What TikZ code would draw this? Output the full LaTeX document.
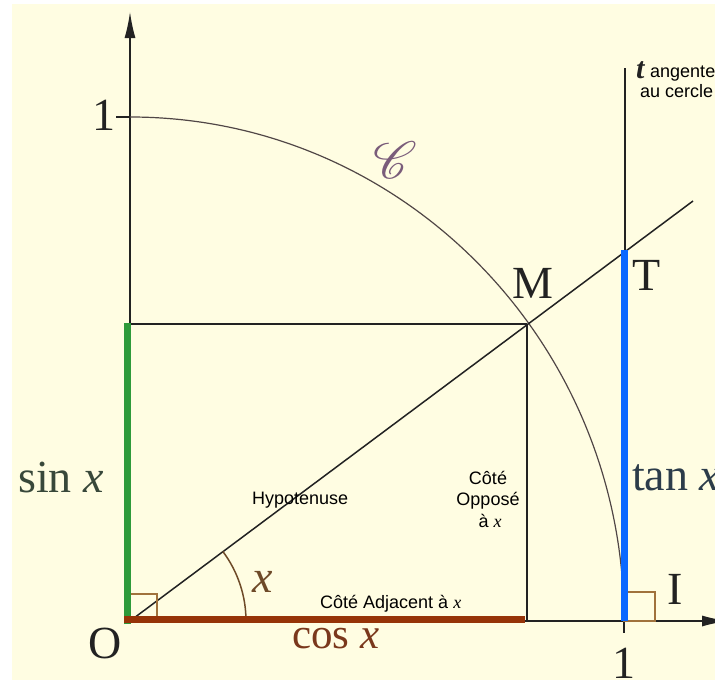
\documentclass[tikz,border=0pt]{standalone}
\usepackage{fontspec}
\setmainfont{Liberation Serif}
\newfontfamily\labfont{Liberation Sans}
\usepackage{mathrsfs}
\usetikzlibrary{arrows.meta}
\definecolor{bg}{RGB}{255,253,226}
\definecolor{ink}{RGB}{34,34,34}
\definecolor{arcc}{RGB}{80,70,70}
\definecolor{greenbar}{RGB}{46,154,58}
\definecolor{brownbar}{RGB}{150,52,8}
\definecolor{bluebar}{RGB}{10,104,255}
\definecolor{boxc}{RGB}{160,114,60}
\definecolor{angc}{RGB}{110,74,40}
\definecolor{sinc}{RGB}{56,72,58}
\definecolor{tanc}{RGB}{44,60,74}
\definecolor{cosc}{RGB}{122,56,28}
\definecolor{scrc}{RGB}{122,92,122}
\tikzset{
  axisline/.style={draw=ink,line width=1.5pt,-{Latex[length=26pt,width=11pt]}},
  thin line/.style={draw=ink,line width=1.5pt},
  circline/.style={draw=arcc,line width=1.2pt},
  bar/.style={line width=7pt},
  rabox/.style={draw=boxc,line width=1.2pt},
  bigserif/.style={inner sep=0pt,anchor=base,text=ink,font=\fontsize{46}{50}\selectfont},
  lab/.style={inner sep=0pt,anchor=base west,text=black,font=\labfont\fontsize{18}{22}\selectfont},
}
\begin{document}
\begin{tikzpicture}[x=1pt,y=1pt]
\fill[white] (0,0) rectangle (715,-680);
\clip (0,0) rectangle (715,-680);
\fill[bg] (12,-4) rectangle (715,-680);
% key points
\coordinate (O) at (130,-621);
\coordinate (I) at (624,-621);
\coordinate (J) at (130,-117);
\coordinate (Jt) at (116,-117);
\coordinate (Ib) at (624,-633);
\coordinate (M) at (527,-324);
\coordinate (T) at (625,-252);
\coordinate (S) at (130,-324);
\coordinate (C) at (527,-621);
\coordinate (ytop) at (130,-12);
\coordinate (xend) at (728,-621);
\coordinate (ttop) at (625,-68);
\coordinate (Lend) at (693,-201);
\coordinate (A1) at (246,-621);
% bar ends
\coordinate (Gb) at (127,-624);
\coordinate (Gt) at (127,-323);
\coordinate (Bl) at (124,-619);
\coordinate (Br) at (525,-619);
\coordinate (Ut) at (624,-250);
\coordinate (Ub) at (624,-621);
% axes
\draw[axisline] (O) -- (ytop);
\draw[axisline] (O) -- (xend);
\draw[thin line] (J) -- (Jt);
\draw[thin line] (I) -- (Ib);
% unit circle arc
\draw[circline] (I) arc[start angle=0,end angle=90,x radius=494pt,y radius=504pt];
% lines
\draw[thin line] (O) -- (Lend);
\draw[thin line] (S) -- (M);
\draw[thin line] (M) -- (C);
\draw[thin line] (ttop) -- (T);
% angle
\draw[draw=angc,line width=1.5pt] (A1) arc[start angle=0,end angle=36.8,radius=116pt];
% right angle boxes
\draw[rabox] (O) rectangle ++(27,27);
\draw[rabox] (I) rectangle ++(31,29);
% coloured bars
\draw[bar,greenbar] (Gb) -- (Gt);
\draw[bar,brownbar] (Bl) -- (Br);
\draw[bar,bluebar] (Ub) -- (Ut);
% big serif labels
\node[bigserif] (one1) at (104,-130) {1};
\node[bigserif] (Olab) at (105,-658) {O};
\node[bigserif] (one2) at (624,-678) {1};
\node[bigserif] (Mlab) at (533,-298) {M};
\node[bigserif] (Tlab) at (647,-290) {T};
\node[bigserif] (Ilab) at (675,-604) {I};
\node[bigserif,anchor=base west,text=sinc] (sinlab) at (18,-492) {sin \textit{x}};
\node[bigserif,anchor=base west,text=tanc] (tanlab) at (632,-490) {tan \textit{x}};
\node[bigserif,anchor=base west,text=cosc,font=\fontsize{43}{46}\selectfont] (coslab) at (292,-648) {cos \textit{x}};
\node[bigserif,anchor=base west,text=angc] (anglab) at (252,-592) {\textit{x}};
\node[inner sep=0pt,text=scrc] (Clab) at (395,-160) {\scalebox{2.1}{\fontsize{24.88}{26}\selectfont$\mathscr{C}$}};
% tangent label
\node[inner sep=0pt,anchor=base west,text=ink,font=\fontsize{30}{32}\selectfont\bfseries\itshape] (tlab) at (636,-78) {t};
\node[lab] (tang1) at (650,-77) {angente};
\node[lab] (tang2) at (640,-97) {au cercle};
% triangle labels
\node[lab] (hyp) at (252,-504) {Hypotenuse};
\node[lab] (adj) at (320,-608) {Côté Adjacent à {\rmfamily\itshape x}};
\node[lab,anchor=base] (opp1) at (488,-484) {Côté};
\node[lab,anchor=base] (opp2) at (488,-505) {Opposé};
\node[lab,anchor=base] (opp3) at (490,-527) {à {\rmfamily\itshape x}};
\end{tikzpicture}
\end{document}
